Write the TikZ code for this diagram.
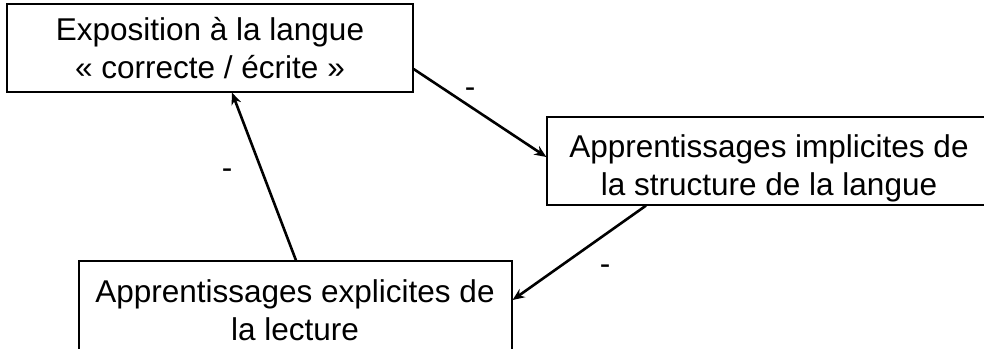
\documentclass[tikz,border=0pt]{standalone}
\usepackage{fontspec}
\setmainfont{Liberation Sans}
\usetikzlibrary{arrows.meta}
\begin{document}
\begin{tikzpicture}[x=1pt,y=-1pt,
  box/.style={draw=black, line width=1.2pt, minimum width=#1, minimum height=88pt, inner sep=0pt},
  txt/.style={align=center, font=\fontsize{31.5}{38}\selectfont, inner sep=0pt, anchor=base},
  link/.style={line width=2.6pt, -{Stealth[length=12pt,width=10pt]}},
  sign/.style={font=\fontsize{31.5}{38}\selectfont, inner sep=0pt}]
  \useasboundingbox (0,0) rectangle (984,348);
  \begin{scope}
  \clip (0,0) rectangle (984,348);
  % boxes
  \node[box=406pt] (expo) at (210,48) {};
  \node[box=444pt] (impl) at (769,161) {};
  \node[box=433pt, minimum height=100pt] (expl) at (295.5,311) {};
  % texts (anchored on the baseline of their last line)
  \node[txt] (expo-t) at (210,78) {Exposition à la langue\\« correcte / écrite »};
  \node[txt] (impl-t) at (769,195) {Apprentissages implicites de\\la structure de la langue};
  \node[txt] (expl-t) at (295,340) {Apprentissages explicites de\\la lecture};
  \end{scope}
  % connectors
  \draw[link] ([yshift=-21pt]expo.east) -- ([yshift=4pt]impl.west);
  \draw[link] ([xshift=-123pt]impl.south) -- ([yshift=11pt]expl.east);
  \draw[link] ([xshift=0.5pt]expl.north) -- ([xshift=22pt]expo.south);
  % signs
  \node[sign] (s1) at (470,93) {-};
  \node[sign] (s2) at (605,270) {-};
  \node[sign] (s3) at (227,174) {-};
\end{tikzpicture}
\end{document}
